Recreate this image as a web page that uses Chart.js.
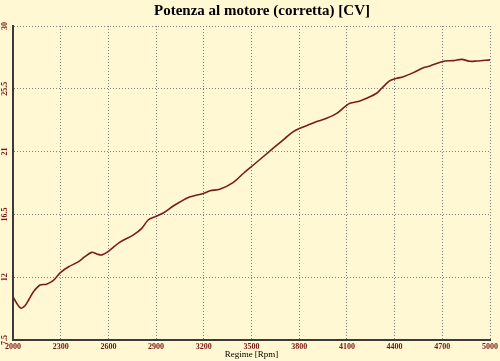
<!DOCTYPE html>
<html>
<head>
<meta charset="utf-8">
<script src="https://cdn.jsdelivr.net/npm/chart.js@4"></script>
<style>
  html, body { margin: 0; padding: 0; background: #FFF8D3; }
  #wrap { width: 500px; height: 361px; position: relative; }
</style>
</head>
<body>
<div id="wrap"><canvas id="c" width="500" height="361"></canvas></div>
<script>
const chartTitle = 'Potenza al motore (corretta) [CV]';
const xTitle = 'Regime [Rpm]';
const rpm = [2000, 2025, 2050, 2075, 2100, 2130, 2170, 2210, 2250, 2300, 2350, 2410, 2450, 2495, 2530, 2560, 2600, 2670, 2755, 2810, 2850, 2895, 2945, 3008, 3100, 3197, 3240, 3300, 3386, 3450, 3512, 3575, 3648, 3711, 3763, 3805, 3857, 3920, 3972, 4036, 4088, 4119, 4182, 4224, 4287, 4319, 4371, 4413, 4455, 4518, 4581, 4623, 4686, 4717, 4770, 4822, 4874, 4916, 5000];
const power = [10.6, 10.1, 9.78, 9.95, 10.4, 10.97, 11.44, 11.5, 11.73, 12.35, 12.75, 13.1, 13.45, 13.78, 13.65, 13.6, 13.85, 14.5, 15.02, 15.5, 16.1, 16.34, 16.6, 17.1, 17.7, 18.0, 18.2, 18.3, 18.8, 19.45, 20.04, 20.65, 21.35, 21.95, 22.43, 22.67, 22.91, 23.19, 23.39, 23.74, 24.22, 24.46, 24.63, 24.82, 25.18, 25.54, 26.08, 26.25, 26.37, 26.66, 27.01, 27.14, 27.4, 27.49, 27.52, 27.61, 27.47, 27.49, 27.57];
const xTicks = [2000, 2300, 2600, 2900, 3200, 3500, 3800, 4100, 4400, 4700, 5000];
const yTicks = [7.5, 12, 16.5, 21, 25.5, 30];
const yTickLabels = ['7.5', '12', '16.5', '21', '25.5', '30'];

const points = rpm.map((r, i) => ({ x: r, y: power[i] }));

const titlePlugin = {
  id: 'topTitle',
  afterDraw(chart) {
    const ctx = chart.ctx;
    ctx.save();
    ctx.font = 'bold 15px "Liberation Serif"';
    ctx.fillStyle = '#000000';
    ctx.textAlign = 'center';
    ctx.textBaseline = 'alphabetic';
    ctx.fillText(chartTitle, 262, 15);
    ctx.restore();
  }
};

new Chart(document.getElementById('c'), {
  type: 'line',
  data: {
    datasets: [{
      data: points,
      borderColor: '#7A1C1C',
      borderWidth: 1.6,
      pointRadius: 0,
      tension: 0.3,
      fill: false
    }]
  },
  options: {
    responsive: false,
    animation: false,
    layout: { padding: { top: 26, right: 10, left: 0, bottom: 0 } },
    plugins: { legend: { display: false }, tooltip: { enabled: false }, title: { display: false } },
    scales: {
      x: {
        type: 'linear',
        min: 2000, max: 5000,
        afterBuildTicks: s => { s.ticks = xTicks.map(v => ({ value: v })); },
        afterFit: s => { s.height = 21; },
        ticks: {
          callback: v => String(v),
          color: '#7A1414',
          font: { family: '"Liberation Serif"', size: 8, weight: 'bold' },
          padding: 2,
          maxRotation: 0, minRotation: 0,
          autoSkip: false
        },
        grid: { color: '#7F7F7F', lineWidth: 1, drawTicks: false },
        border: { display: true, color: '#3A3A3A', width: 2, dash: [1, 2] },
        title: {
          display: true, text: xTitle, color: '#000000',
          font: { family: '"Liberation Serif"', size: 9 },
          padding: { top: 0, bottom: 1 }
        }
      },
      y: {
        type: 'linear',
        min: 7.5, max: 30,
        afterBuildTicks: s => { s.ticks = yTicks.map(v => ({ value: v })); },
        afterFit: s => { s.width = 13; },
        ticks: {
          callback: (v, i) => yTickLabels[i],
          color: '#7A1414',
          font: { family: '"Liberation Serif"', size: 8, weight: 'bold' },
          padding: 1,
          minRotation: 90, maxRotation: 90,
          crossAlign: 'center',
          autoSkip: false
        },
        grid: { color: '#7F7F7F', lineWidth: 1, drawTicks: false },
        border: { display: true, color: '#3A3A3A', width: 2, dash: [1, 2] }
      }
    }
  },
  plugins: [titlePlugin]
});
</script>
</body>
</html>
